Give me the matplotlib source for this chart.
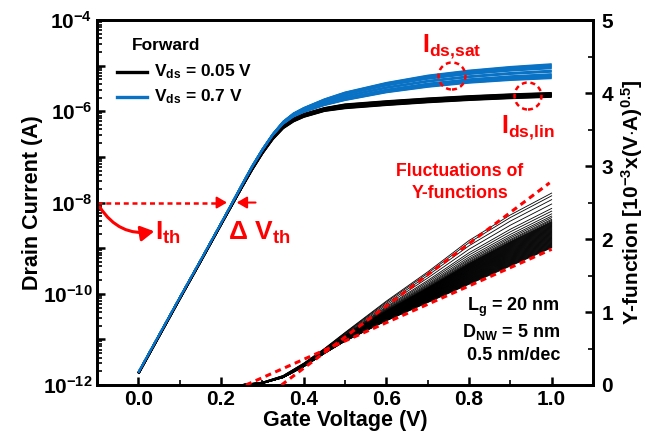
import numpy as np
import matplotlib
matplotlib.use("Agg")
import matplotlib.pyplot as plt
from matplotlib.patches import Ellipse
from matplotlib.ticker import LogLocator, FixedLocator, NullFormatter, FuncFormatter, MultipleLocator

plt.rcParams['font.family'] = ['Liberation Sans', 'DejaVu Sans']
plt.rcParams['font.weight'] = 'bold'
plt.rcParams['mathtext.fontset'] = 'custom'
plt.rcParams['mathtext.rm'] = 'Liberation Sans:bold'
plt.rcParams['mathtext.bf'] = 'Liberation Sans:bold'
plt.rcParams['mathtext.it'] = 'Liberation Sans:bold'
plt.rcParams['mathtext.default'] = 'bf'

# ---------------- data ----------------
vg = [0.0, 0.05, 0.1, 0.15, 0.2, 0.25, 0.275, 0.3, 0.325, 0.35, 0.375, 0.4,
      0.45, 0.5, 0.6, 0.7, 0.8, 0.9, 1.0]
# log10(Id) envelopes of the Monte-Carlo band
black_lo = [-11.75, -10.93, -10.11, -9.30, -8.48, -7.67, -7.28, -6.92, -6.61, -6.37, -6.22, -6.12,
            -5.99, -5.93, -5.86, -5.80, -5.75, -5.71, -5.68]
black_hi = [-11.73, -10.91, -10.09, -9.28, -8.46, -7.65, -7.24, -6.88, -6.55, -6.31, -6.16, -6.06,
            -5.93, -5.85, -5.78, -5.72, -5.67, -5.63, -5.60]
blue_lo = [-11.73, -10.91, -10.09, -9.28, -8.46, -7.64, -7.23, -6.86, -6.53, -6.28, -6.12, -6.02,
           -5.87, -5.76, -5.59, -5.47, -5.38, -5.32, -5.28]
blue_hi = [-11.71, -10.89, -10.07, -9.26, -8.44, -7.60, -7.19, -6.82, -6.49, -6.22, -6.04, -5.92,
           -5.73, -5.58, -5.37, -5.21, -5.10, -5.02, -4.96]
# position of each device inside the band (0 = lower edge, 1 = upper edge)
black_pos = [0.0, 0.1, 0.2, 0.3, 0.4, 0.5, 0.6, 0.7, 0.8, 0.9, 1.0]
blue_pos = [0.0, 0.04, 0.08, 0.12, 0.16, 0.20, 0.24, 0.28, 0.32,
            0.44, 0.48, 0.52, 0.56,
            0.68, 0.72, 0.76, 0.80, 0.84, 0.88, 0.92, 0.96, 1.0]

# Y-function band (10^-3 (V*A)^0.5)
vg_y = [0.24, 0.3, 0.35, 0.4, 0.45, 0.5, 0.6, 0.7, 0.8, 0.9, 1.0]
yf_lo = [0.0, 0.02, 0.10, 0.25, 0.43, 0.60, 0.88, 1.13, 1.38, 1.63, 1.88]
yf_hi = [0.0, 0.04, 0.13, 0.30, 0.50, 0.72, 1.15, 1.55, 1.98, 2.33, 2.63]
yf_pos = [0.0, 0.01, 0.02, 0.03, 0.04, 0.05, 0.06, 0.07, 0.08, 0.09, 0.10, 0.11, 0.12,
          0.13, 0.14, 0.15, 0.16, 0.17, 0.18, 0.19, 0.20, 0.21, 0.22, 0.23, 0.24, 0.25,
          0.26, 0.27, 0.28, 0.29, 0.30, 0.31, 0.32, 0.33, 0.34, 0.35, 0.36, 0.37, 0.38,
          0.39, 0.40, 0.41, 0.42, 0.43, 0.44, 0.45, 0.46, 0.47, 0.48, 0.50, 0.52, 0.55,
          0.58, 0.62, 0.67, 0.72, 0.80, 0.88, 0.95, 1.0]
# red dashed bounding lines of Y-function
bound_lo_x = [0.26, 1.0]
bound_lo_y = [0.0, 1.86]
bound_hi_x = [0.346, 0.995]
bound_hi_y = [0.0, 2.77]

red = '#FF0000'
blue = '#0A72C4'

fig = plt.figure(figsize=(6.52, 4.37), dpi=100)
ax = fig.add_axes([0.149, 0.119, 0.7605, 0.835])

vg_a = np.array(vg)
for p in black_pos:
    y = np.array(black_lo) + p * (np.array(black_hi) - np.array(black_lo))
    ax.plot(vg_a, 10 ** y, color='black', lw=1.6, solid_capstyle='butt', zorder=2)
for p in blue_pos:
    y = np.array(blue_lo) + p * (np.array(blue_hi) - np.array(blue_lo))
    ax.plot(vg_a, 10 ** y, color=blue, lw=1.0, solid_capstyle='butt', zorder=3)

ax.set_yscale('log')
ax.set_xlim(-0.1, 1.1)
ax.set_ylim(1e-12, 1e-4)

ax.yaxis.set_major_locator(LogLocator(base=10, numticks=20))
ax.yaxis.set_minor_locator(LogLocator(base=10, subs=np.arange(2, 10), numticks=100))
ax.yaxis.set_minor_formatter(NullFormatter())

def yfmt(v, pos):
    e = int(round(np.log10(v)))
    if e % 2 == 0:
        return r'$10^{%d}$' % e
    return ''
ax.yaxis.set_major_formatter(FuncFormatter(yfmt))
ax.xaxis.set_major_locator(FixedLocator([0.0, 0.2, 0.4, 0.6, 0.8, 1.0]))
ax.xaxis.set_minor_locator(FixedLocator([-0.1, 0.1, 0.3, 0.5, 0.7, 0.9]))
ax.xaxis.set_major_formatter(FuncFormatter(lambda v, p: '%.1f' % v))

for s in ax.spines.values():
    s.set_linewidth(2.0)
ax.tick_params(axis='both', which='major', direction='in', length=6, width=1.8, labelsize=15)
ax.tick_params(axis='both', which='minor', direction='in', length=3.5, width=1.2)
ax.tick_params(axis='x', top=False, which='both')
ax.tick_params(axis='y', right=False, which='both')
for lab in ax.get_xticklabels() + ax.get_yticklabels():
    lab.set_fontweight('bold')

ax.set_xlabel('Gate Voltage (V)', fontsize=15.5, fontweight='bold', labelpad=1)
ax.set_ylabel('Drain Current (A)', fontsize=15.5, fontweight='bold', labelpad=0)

# twin axis: Y-function
ax2 = ax.twinx()
ax2.set_ylim(0, 5)
ax2.yaxis.set_major_locator(MultipleLocator(1))
ax2.yaxis.set_minor_locator(MultipleLocator(0.5))
ax2.tick_params(axis='y', which='major', direction='in', length=6, width=1.8, labelsize=15, pad=6)
ax2.tick_params(axis='y', which='minor', direction='in', length=3.5, width=1.2)
for s in ax2.spines.values():
    s.set_linewidth(2.0)
for lab in ax2.get_yticklabels():
    lab.set_fontweight('bold')
ax2.set_ylabel(r'Y-function [10$^{-3}$x(V$\cdot$A)$^{0.5}$]', fontsize=15, fontweight='bold', labelpad=4)

vy = np.array(vg_y)
for p in yf_pos:
    y = np.array(yf_lo) + p * (np.array(yf_hi) - np.array(yf_lo))
    ax2.plot(vy, y, color='black', lw=0.6, zorder=2)
ax2.plot(bound_lo_x, bound_lo_y, color=red, lw=2.2, ls=(0, (2, 1.5)), zorder=4)
ax2.plot(bound_hi_x, bound_hi_y, color=red, lw=2.2, ls=(0, (2, 1.5)), zorder=4)

# legend (manual)
fig.text(0.203, 0.897, 'Forward', fontsize=12.5, fontweight='bold', va='center')
for yy, c, t in [(0.835, 'black', r'V$_{ds}$ = 0.05 V'), (0.778, blue, r'V$_{ds}$ = 0.7 V')]:
    fig.add_artist(plt.Line2D([0.179, 0.226], [yy, yy], color=c, lw=2.4, transform=fig.transFigure))
    fig.text(0.236, yy, t, fontsize=12.5, fontweight='bold', va='center')

# threshold annotations
ax.plot([-0.1, 0.19], [1e-8, 1e-8], color=red, lw=1.8, ls=(0, (2, 1.5)), zorder=5)
ax.annotate('', xy=(0.221, 1e-8), xytext=(0.185, 1e-8),
            arrowprops=dict(arrowstyle='-|>,head_length=0.6,head_width=0.35', color=red, lw=1.5), zorder=6)
ax.annotate('', xy=(0.231, 1e-8), xytext=(0.29, 1e-8),
            arrowprops=dict(arrowstyle='-|>,head_length=0.6,head_width=0.35', color=red, lw=1.5), zorder=6)
ax.annotate('', xy=(0.045, 10 ** -8.62), xytext=(-0.097, 10 ** -8.05),
            arrowprops=dict(arrowstyle='-|>,head_length=0.8,head_width=0.45', color=red, lw=2.2,
                            connectionstyle='arc3,rad=0.35'), zorder=6)
fig.text(0.237, 0.468, r'I$_{th}$', color=red, fontsize=19, fontweight='bold', va='center')
fig.text(0.349, 0.468, r'$\Delta$ V$_{th}$', color=red, fontsize=19, fontweight='bold', va='center')

# saturation / linear current circles
fig.text(0.648, 0.893, r'I$_{ds{,}sat}$', color=red, fontsize=18, fontweight='bold', va='center')
fig.text(0.768, 0.708, r'I$_{ds{,}lin}$', color=red, fontsize=18, fontweight='bold', va='center')
for cx, cy in [(452, 76), (528, 96)]:
    fig.add_artist(Ellipse((cx / 652, 1 - cy / 437), 27 / 652, 27 / 437, transform=fig.transFigure,
                           fill=False, edgecolor=red, lw=1.8, ls=(0, (2, 1.5))))

fig.text(0.705, 0.607, 'Fluctuations of', color=red, fontsize=12.8, fontweight='bold', ha='center', va='center')
fig.text(0.705, 0.557, 'Y-functions', color=red, fontsize=12.8, fontweight='bold', ha='center', va='center')

fig.text(0.859, 0.297, r'L$_{g}$ = 20 nm', fontsize=13, fontweight='bold', ha='right', va='center')
fig.text(0.859, 0.24, r'D$_{NW}$ = 5 nm', fontsize=13, fontweight='bold', ha='right', va='center')
fig.text(0.859, 0.187, '0.5 nm/dec', fontsize=13, fontweight='bold', ha='right', va='center')

fig.savefig('out.png', dpi=100)
